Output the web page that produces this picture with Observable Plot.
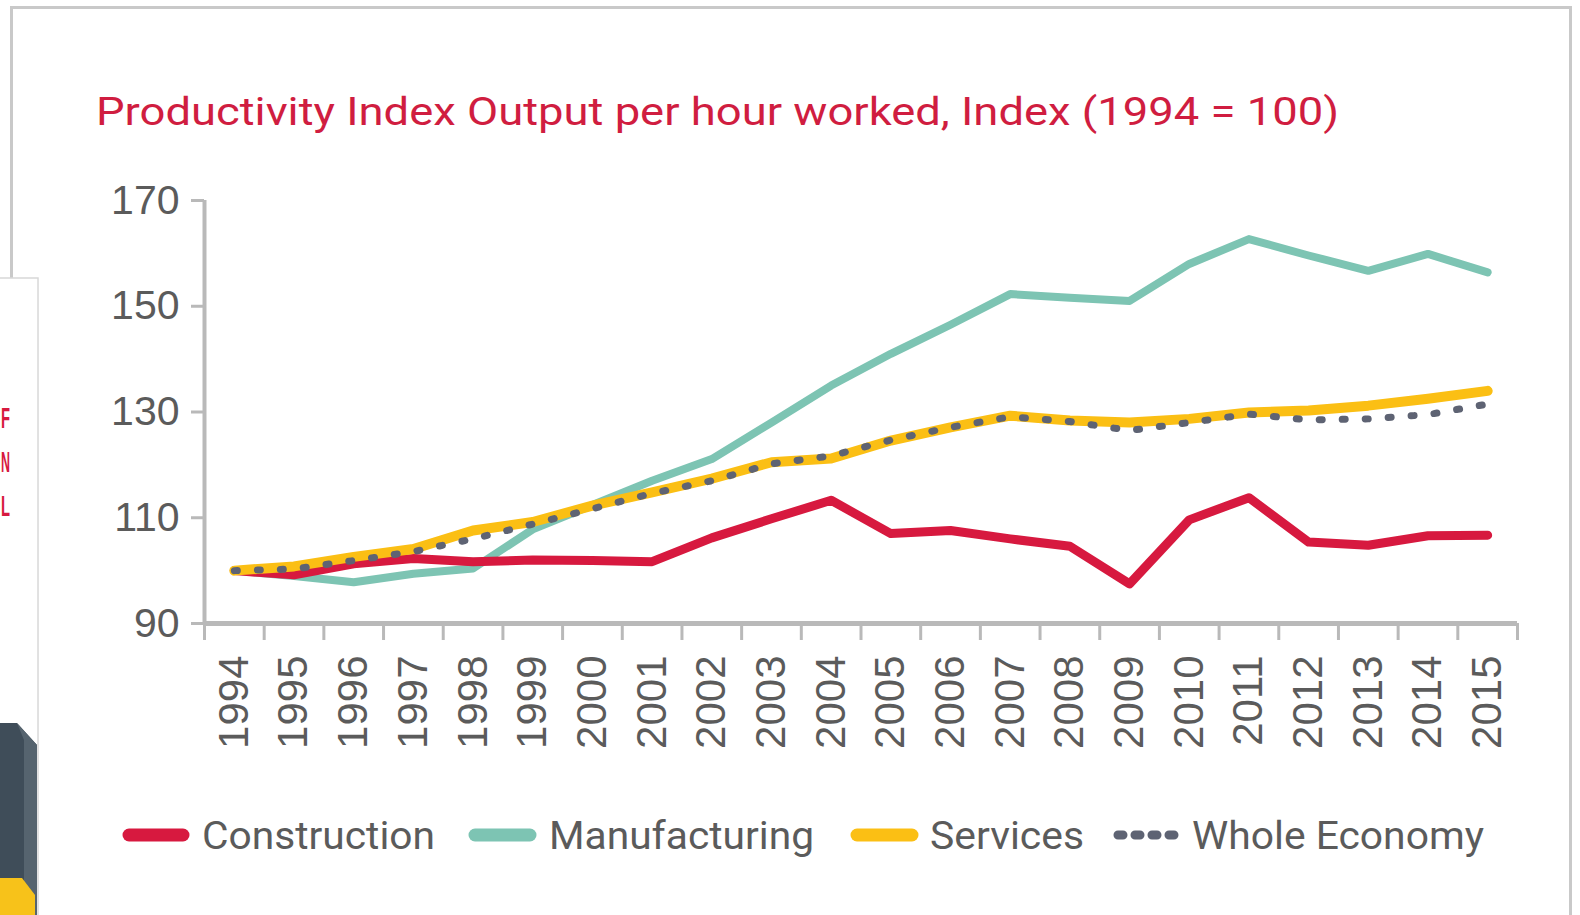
<!DOCTYPE html>
<html>
<head>
<meta charset="utf-8">
<script src="https://cdn.jsdelivr.net/npm/d3@7"></script>
<script src="https://cdn.jsdelivr.net/npm/@observablehq/plot@0.6"></script>
<style>
  html, body { margin: 0; padding: 0; background: #ffffff; }
  body { width: 1580px; height: 915px; position: relative; overflow: hidden; font-family: "Liberation Sans", Arial, sans-serif; }
  .abs { position: absolute; }
  #chart { position: absolute; left: 0; top: 170px; }
</style>
</head>
<body>
<!-- page frame -->
<div class="abs" style="left:11px;top:6px;width:1560px;height:3px;background:#c9c9c9"></div>
<div class="abs" style="left:10px;top:6px;width:3px;height:272px;background:#c9c9c9"></div>
<div class="abs" style="left:1569px;top:6px;width:3px;height:915px;background:#c9c9c9"></div>
<!-- cropped neighbouring card at the left edge -->
<svg class="abs" style="left:0;top:270px" width="50" height="645">
  <rect x="-10" y="8" width="48" height="650" fill="#ffffff" stroke="#d8d8d8" stroke-width="1.5"/>
  <g fill="#d7193f" font-family="Liberation Sans Narrow, Liberation Sans, sans-serif" font-weight="bold" font-size="30">
    <text x="1" y="158" textLength="9" lengthAdjust="spacingAndGlyphs">F</text>
    <text x="1" y="202" textLength="9" lengthAdjust="spacingAndGlyphs">N</text>
    <text x="1" y="246" textLength="9" lengthAdjust="spacingAndGlyphs">L</text>
  </g>
  <polygon points="0,453 17,453 37,475 37,645 0,645" fill="#3f4d59"/>
  <polygon points="17,453 37,475 37,645 24,645 24,470" fill="#56646f"/>
  <polygon points="0,608 22,608 35,625 35,645 0,645" fill="#f7c21a"/>
</svg>

<svg id="title" class="abs" style="left:0;top:0" width="1580" height="160">
  <text x="96" y="125" font-family="Liberation Sans Narrow, Roboto, sans-serif" font-size="39" fill="#d01d40" textLength="1243" lengthAdjust="spacingAndGlyphs">Productivity Index Output per hour worked, Index (1994 = 100)</text>
</svg>

<div id="chart"></div>

<svg id="legend" class="abs" style="left:0;top:800px" width="1580" height="70"></svg>

<script>
// ---- data ----
const years = [1994, 1995, 1996, 1997, 1998, 1999, 2000, 2001, 2002, 2003, 2004,
               2005, 2006, 2007, 2008, 2009, 2010, 2011, 2012, 2013, 2014, 2015];
const construction  = [100, 99.2, 101.3, 102.3, 101.7, 102.0, 101.9, 101.7, 106.2, 109.8, 113.3,
                       107.0, 107.6, 106.0, 104.6, 97.5, 109.6, 113.8, 105.4, 104.8, 106.6, 106.7];
const manufacturing = [100, 99.0, 97.8, 99.4, 100.4, 107.8, 112.4, 117.0, 121.1, 128.0, 135.0,
                       141.0, 146.5, 152.3, 151.6, 151.0, 158.0, 162.7, 159.6, 156.7, 159.9, 156.4];
const services      = [100, 100.8, 102.6, 104.1, 107.6, 109.2, 112.3, 114.8, 117.4, 120.5, 121.2,
                       124.6, 127.1, 129.3, 128.4, 128.0, 128.7, 129.9, 130.3, 131.2, 132.5, 134.0];
const wholeEconomy  = [100, 100.3, 101.9, 103.6, 106.0, 108.8, 111.7, 114.6, 117.0, 120.2, 121.7,
                       124.7, 127.1, 129.1, 128.2, 126.5, 128.0, 129.6, 128.5, 128.7, 129.5, 131.5];
const yTicks = [90, 110, 130, 150, 170];
const seriesNames = ["Construction", "Manufacturing", "Services", "Whole Economy"];
const seriesColors = ["#d7193f", "#7dc4b3", "#fbbf14", "#5e6373"];

// ---- build table ----
const seriesValues = [construction, manufacturing, services, wholeEconomy];
const rows = [];
seriesNames.forEach((name, s) => {
  years.forEach((yr, i) => rows.push({series: name, year: yr, value: seriesValues[s][i]}));
});
const pick = name => rows.filter(d => d.series === name);

const half = 0.5;
const edges = years.map(y => y - half).concat([years[years.length - 1] + half]);
const axisGrey = "#b9b9b9";
const textGrey = "#5b5b5b";

const chart = Plot.plot({
  width: 1580,
  height: 600,
  marginLeft: 204,
  marginRight: 63,
  marginTop: 30,
  marginBottom: 147,
  x: {type: "linear", domain: [edges[0], edges[edges.length - 1]]},
  y: {domain: [yTicks[0], yTicks[yTicks.length - 1]]},
  style: {background: "transparent", color: textGrey, fontFamily: "Liberation Sans, Arial, sans-serif", overflow: "visible"},
  marks: [
    Plot.axisY({ticks: yTicks, tickSize: 13, tickPadding: 12, fontSize: 41, stroke: axisGrey, strokeWidth: 3,
                fill: textGrey, tickFormat: d => String(d), label: null}),
    Plot.axisX({ticks: edges, tickSize: 17, tickFormat: () => "", stroke: axisGrey, strokeWidth: 3, label: null}),
    Plot.axisX({ticks: years, tickSize: 0, tickRotate: -90, tickPadding: 32, fontSize: 42, fill: textGrey,
                tickFormat: d => String(d), label: null}),
    Plot.ruleX([edges[0]], {stroke: axisGrey, strokeWidth: 4}),
    Plot.ruleY([yTicks[0]], {x1: edges[0], x2: edges[edges.length - 1], stroke: axisGrey, strokeWidth: 5}),
    Plot.line(pick("Manufacturing"), {x: "year", y: "value", stroke: seriesColors[1], strokeWidth: 8, strokeLinejoin: "round", strokeLinecap: "round"}),
    Plot.line(pick("Construction"), {x: "year", y: "value", stroke: seriesColors[0], strokeWidth: 9, strokeLinejoin: "round", strokeLinecap: "round"}),
    Plot.line(pick("Services"), {x: "year", y: "value", stroke: seriesColors[2], strokeWidth: 10, strokeLinejoin: "round", strokeLinecap: "round"}),
    Plot.line(pick("Whole Economy"), {x: "year", y: "value", stroke: seriesColors[3], strokeWidth: 7, strokeLinecap: "round",
                                      strokeDasharray: "3 20"})
  ]
});
document.getElementById("chart").appendChild(chart);

// ---- legend ----
const legend = d3.select("#legend");
const items = [
  {sw: [123, 189], tx: 202, tw: 233},
  {sw: [469, 536], tx: 549, tw: 265},
  {sw: [851, 918], tx: 930, tw: 154},
  {sw: [1113, 1180], tx: 1192, tw: 292}
];
items.forEach((it, i) => {
  const cy = 35;
  const line = legend.append("line")
    .attr("x1", it.sw[0] + 6).attr("x2", it.sw[1] - 6).attr("y1", cy).attr("y2", cy)
    .attr("stroke", seriesColors[i]).attr("stroke-linecap", "round");
  if (seriesNames[i] === "Whole Economy") {
    line.attr("stroke-width", 9).attr("stroke-dasharray", "5 12").attr("x1", it.sw[0] + 5).attr("x2", it.sw[1] - 2);
  } else {
    line.attr("stroke-width", 13);
  }
  legend.append("text")
    .attr("x", it.tx).attr("y", cy + 14)
    .attr("font-family", "Liberation Sans Narrow, Roboto, sans-serif")
    .attr("font-size", 38).attr("fill", textGrey)
    .attr("textLength", it.tw).attr("lengthAdjust", "spacingAndGlyphs")
    .text(seriesNames[i]);
});
</script>
</body>
</html>
